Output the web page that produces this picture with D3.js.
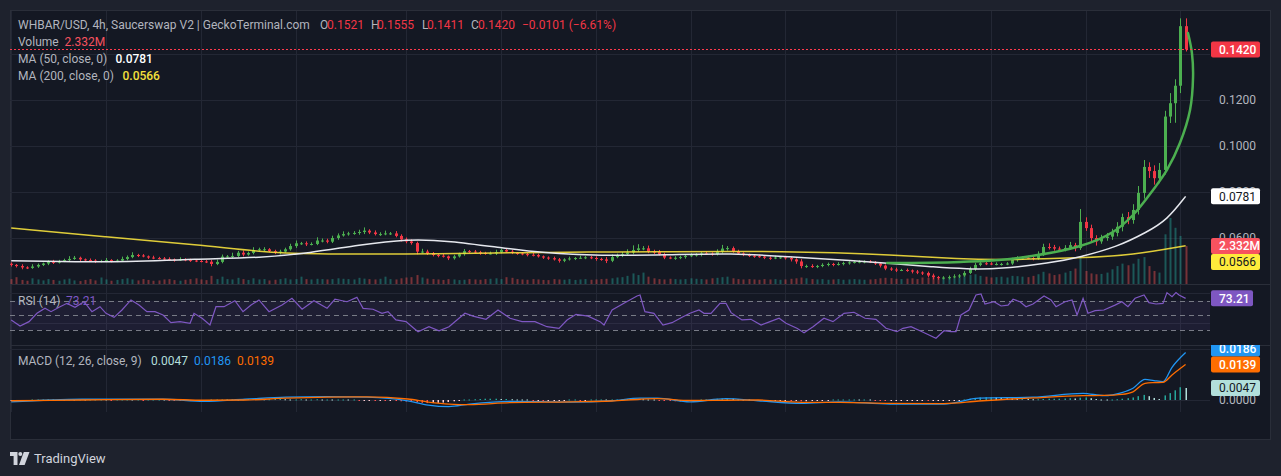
<!DOCTYPE html>
<html>
<head>
<meta charset="utf-8">
<script src="https://cdn.jsdelivr.net/npm/d3@7"></script>
<style>
  body { margin: 0; background: #1e222d; }
  text { font-family: Roboto, "Noto Sans", sans-serif; }
</style>
</head>
<body>
<script>
// 8h candles from 6 Sep 2024, prices in units of 0.0001
var firstOpen = 488;
var closes = [
  483,478,472,470,476,483,489,496,493,500,
  504,509,514,507,504,502,498,500,504,500,
  502,509,517,526,524,520,515,513,511,509,
  507,504,507,504,502,500,498,497,487,496,
  519,520,522,536,528,535,548,551,551,543,
  536,541,551,565,577,577,574,574,589,589,
  584,600,611,617,620,622,626,632,624,617,
  617,620,620,609,594,585,578,541,541,533,
  526,523,520,512,520,530,543,541,538,535,
  533,533,539,548,541,535,533,530,527,526,
  520,515,512,507,501,507,511,513,514,516,
  513,509,507,501,517,524,530,537,548,555,
  555,541,539,530,515,513,514,517,522,525,
  528,533,532,530,541,554,556,543,533,526,
  523,521,519,514,513,515,516,513,507,498,
  478,478,476,478,483,487,485,487,491,494,
  496,497,498,496,489,480,467,463,461,461,
  459,454,450,448,437,430,426,428,430,433,
  437,448,465,483,490,489,487,487,487,489,
  504,513,514,513,512,530,561,560,554,552,
  557,569,556,670,643,600,585,600,606,622,
  649,691,678,722,796,909,891,860,896,1128,
  1186,1262,1521,1420
];
var wickUp = [
  6,4,8,5,10,6,4,7,9,5,6,12,8,5,4,7,6,5,9,4,
  6,10,7,12,5,6,4,8,5,6,7,4,9,5,6,4,5,6,8,10,
  9,6,14,8,10,6,12,7,9,5,6,8,7,10,12,6,8,7,14,9,
  8,10,9,12,7,8,10,14,6,9,8,12,6,10,7,8,9,6,12,8,
  6,5,8,4,7,6,9,5,7,6,5,8,10,6,5,7,4,6,5,8,
  6,4,5,7,6,5,8,4,9,5,6,7,5,10,12,8,9,14,20,18,
  10,12,8,9,6,5,7,6,8,9,6,7,8,6,10,16,9,7,6,5,
  6,5,7,4,6,8,5,6,7,5,10,6,8,5,7,6,5,8,6,5,
  6,7,5,6,4,7,5,6,8,5,6,4,7,5,6,8,5,6,7,9,
  6,8,10,9,7,8,6,7,5,6,10,8,7,9,8,12,14,16,10,9,
  12,14,10,56,20,15,12,14,16,18,20,15,22,25,30,30,20,25,30,25,
  44,28,34,34
];
var wickDn = [
  7,6,8,5,4,6,5,7,6,4,5,6,4,8,5,6,7,4,5,6,
  5,4,6,5,7,4,6,5,4,6,5,7,4,5,6,5,4,6,10,5,
  6,5,7,6,8,5,6,7,8,5,6,7,5,6,8,7,9,6,5,8,
  7,6,8,5,7,6,8,9,7,6,8,5,7,6,9,8,7,12,8,7,
  6,7,5,8,6,5,7,6,5,8,6,5,7,6,4,5,6,5,7,6,
  5,6,7,5,8,6,5,7,4,6,5,8,6,10,6,5,7,6,8,9,
  8,7,9,6,7,5,8,6,7,5,6,8,5,7,6,8,9,7,6,5,
  6,7,5,6,8,5,6,7,9,10,10,8,6,7,5,6,8,5,6,7,
  5,6,7,5,6,8,7,6,9,5,6,8,7,9,8,10,7,6,8,5,
  7,6,5,8,6,7,5,6,7,5,6,7,8,5,9,7,8,10,9,8,
  10,9,14,8,12,15,18,10,12,14,15,20,18,16,20,25,30,28,22,20,
  28,85,32,9
];
// volume in millions
var volumes = [
  .30,.42,.25,.20,.35,.28,.22,.30,.25,.20,.28,.33,.22,.18,.25,.30,.22,.40,.28,.20,
  .25,.30,.35,.28,.22,.30,.25,.20,.22,.28,.30,.24,.20,.26,.30,.35,.28,.24,.50,.30,
  .45,.30,.28,.38,.30,.25,.35,.28,.30,.22,.26,.30,.35,.28,.30,.45,.30,.28,.32,.30,
  .28,.30,.35,.32,.30,.28,.38,.33,.30,.28,.32,.45,.30,.28,.35,.40,.42,.55,.40,.33,
  .30,.28,.25,.30,.28,.24,.26,.30,.28,.26,.30,.32,.35,.30,.42,.38,.30,.28,.26,.30,
  .28,.25,.24,.30,.28,.26,.30,.25,.28,.30,.26,.28,.30,.32,.35,.40,.42,.50,.65,.55,
  .70,.45,.35,.30,.28,.32,.30,.28,.30,.35,.32,.30,.28,.35,.38,.42,.45,.35,.30,.28,
  .30,.28,.26,.30,.28,.30,.26,.28,.32,.35,.40,.35,.30,.28,.30,.26,.28,.30,.26,.28,
  .30,.28,.26,.28,.30,.35,.38,.36,.32,.30,.33,.35,.30,.40,.38,.42,.35,.38,.40,.36,
  .42,.48,.55,.60,.50,.45,.40,.42,.45,.40,.50,.48,.45,.42,.50,.60,.75,.65,.55,.60,
  .70,.80,.95,1.65,.80,.65,.60,.62,.70,.90,
  1.10,1.25,1.15,1.25,1.55,1.65,1.10,.80,.70,3.05,
  4.05,3.45,2.95,2.332
];
// MACD histogram per candle, units of 0.0001
var macdHist = [
  -4,-3,-2,-1,0,1, 2,3,3,3,2,2,1,1,0,
  0,1,1,0,-1,0,1,1,0,0,-1,0,0,1,0,-1,
  -2,-3,-4,-4,-3,-2,-1, 0,1,2,3,3,2,3,4,4,
  4,3,3,4,4,3,2,2,3, 2,2,3,2,2,1,1,1,0,0,-1,
  -1,-1,-2,-2,-3,-3,-4,-5,-6,-7, -9,-11,-12,-12,-11,-10,-8,-5,-2,
  1,2,3,4,5,5,5,4,4,3,2, 1,0,-1,-1,-2,-2,-2,-1,-1,0,0,-1,-1,0,
  1,1,0,1,2,3,4,4, 4,3,2,1,-1,-3,-4,-5,-5, -5,-4,-2,0,2,3,
  5,6,6,5,3,1,0, -1,-2,-3,-3,-3,-3,-3,-4,-4, -5,-5,-4,-3,-2,-1,0,1,
  2,2,2,1,1,0,-1,-2, -3,-3,-3,-3,-2,-2,-2,-2,-3,-3,-3,-2,-2,-1,-1,
  2,5,8,10,11,11,10,9,7, 6,5,5,4,3,3,4,5,5,5,
  6,7,6,9,10,7,4, 1,0,1,3,5,7, 10,15,20,15,8,4, 18,27,38,50,47
];

// indicator lines: [days since 6 Sep, value]
var ma50 = [[0,501],[6,493],[11.95,509],[15.81,514],[18.91,535],[22.01,570],[25.11,596],[27.71,588],
  [31.06,557],[33.66,535],[37.27,523],[41.51,526],[45.68,534],[49.1,519],[53.28,501],[56.25,487],
  [58.34,474],[60.49,465],[62.58,465],[65.75,491],[67.65,517],[69.99,561],[71.89,626],[73.15,678],[74.33,781]];
var ma200 = [[0,644],[6,604],[11.95,570],[15.81,539],[18.91,530],[25.11,530],[30.3,535],[37.27,540],
  [39.8,539],[49.1,544],[56.06,526],[60.05,509],[62.58,504],[67.65,513],[71.0,526],[74.33,566]];
var rsiPts = [[0,43.7],[0.56,35.5],[1.13,41.4],[1.63,52.8],[2.14,59.6],[2.52,55],[3.03,61],[3.53,66.4],
  [4.04,61],[4.61,68.6],[5.11,55],[5.62,61.8],[6.0,52.8],[6.51,47.3],[7.01,57.3],[7.58,71],[8.09,64.1],
  [8.59,55],[9.1,55],[9.61,50.5],[10.11,40],[10.68,41.4],[11.32,39.2],[11.57,52.8],[12.08,46],[12.58,36.8],
  [12.96,61.8],[13.47,61.8],[14.16,70],[14.67,55],[15.18,64],[15.68,71],[16.32,55],[17.14,64],[17.77,73.3],
  [18.41,58.3],[19.16,70],[19.99,59.6],[20.49,72],[21.25,68.6],[21.88,74.6],[22.27,59.6],[22.9,58.3],
  [23.47,52.8],[23.85,55],[24.35,43.7],[24.99,41.4],[25.37,34.5],[25.75,27.7],[26.44,34.5],[27.08,29],
  [27.71,34.5],[28.21,43.7],[28.72,52.8],[29.23,49],[30.05,44.6],[30.81,57.3],[31.57,46],[32.33,41.4],
  [33.15,41.4],[33.91,34.5],[34.67,32.3],[35.18,43.7],[35.75,51.4],[36.51,49],[37.27,41.4],[37.52,36.8],
  [38.03,57.3],[38.78,66.4],[39.61,76.4],[39.8,77.8],[40.11,55],[40.68,52.8],[41.25,36.8],[41.82,40],
  [42.52,48.2],[42.96,52.8],[43.53,57.3],[43.85,52.8],[44.29,52.8],[44.86,66.4],[45.24,66.4],[45.56,53.7],
  [46.25,43.7],[46.82,44.6],[47.46,36.8],[48.03,41.4],[48.6,46],[49.04,39.2],[49.73,32.3],[50.18,26.3],
  [50.75,34.5],[51.44,46],[52.01,41.4],[52.71,52.8],[53.34,54.2],[54.04,46],[54.73,44.6],[55.37,32.3],
  [56.06,27.7],[56.44,32.3],[56.95,34.5],[57.65,27.7],[58.09,23.2],[58.53,18.7],[59.04,29],[59.48,27.7],
  [59.8,27.7],[60.11,50.5],[60.62,57.3],[61.06,77.8],[61.38,79.1],[61.63,65.5],[62.2,68.6],[62.65,62.8],
  [63.09,64],[63.41,72],[63.85,68.6],[64.23,61.8],[64.67,65.5],[65.37,76.4],[65.81,71],[66.13,61.8],
  [66.7,68.6],[67.14,71],[67.46,50.5],[67.84,73.3],[68.15,52.8],[68.6,56.4],[69.16,57.3],[69.86,64],
  [70.3,68.6],[70.68,61.8],[71.13,73.3],[71.7,77.8],[72.01,67.3],[72.46,65.5],[72.9,66.4],[73.15,81],
  [73.47,75.5],[73.72,81],[73.91,77.8],[74.33,73.21]];
var macdDays = [0,4.48,9.61,12.2,14.8,17.4,20.0,22.5,25.1,26.4,27.7,29.0,31.6,35.4,38.0,39.8,40.9,42.96,
  45.24,47.27,50.0,52.45,55.62,59.04,61.25,64.67,67.84,69.17,70.3,71.0,71.76,72.33,72.9,73.47,74.33];
var macdLine = [-7,3,3,-5,3,11,13,11,-3,-20,-26,-16,-5,-8,-3,7,7,-7,5,-3,-13,-7,-16,-16,7,11,26,17,29,46,81,76,72,128,186];
var signalLine = [-3,0,3,-1,0,7,11,12,4,-8,-16,-18,-10,-7,-4,3,5,-2,-1,0,-9,-9,-13,-14,-4,8,17,18,22,32,65,68,69,98,139];
// hand-drawn arc on the chart: [days, price]
var arcPts = [[55.43,491],[60.05,496],[63.21,509],[67.65,565],[69.73,626],[71.0,700],[72.27,809],[73.15,896],
  [73.97,1013],[74.61,1157],[74.8,1300],[74.73,1404],[74.48,1491]];

var tickDates = ['2024-09-06','2024-09-12','2024-09-18','2024-09-24','2024-10-01','2024-10-07','2024-10-13',
  '2024-10-19','2024-10-25','2024-11-01','2024-11-07','2024-11-13','2024-11-19'];
var tickLabels = ['6','12','18','24','Oct','7','13','19','25','Nov','7','13','19'];

var DAY = 864e5, H8 = 8 * 3600e3;
var t0 = Date.UTC(2024, 8, 6);
var W = 1281, H = 476;
var left = 10, right = 1210;
var main = {top: 10, bottom: 284}, rsiP = {top: 284, bottom: 345}, macdP = {top: 345, bottom: 412};

var x = d3.scaleUtc().domain([t0, t0 + 74 * DAY]).range([11.2, 11.2 + 15.8 * 74]);
var y = d3.scaleLinear().domain([0.04, 0.12]).range([284, 100]);
var yv = d3.scaleLinear().domain([0, 2.332]).range([284, 246]);
var yr = d3.scaleLinear().domain([30, 70]).range([330, 300.7]);
var ym = d3.scaleLinear().domain([0, 0.0047]).range([400, 388]);
var fmt4 = d3.format('.4f');
var dayT = function(d) { return t0 + d * DAY; };

var candles = closes.map(function(c, i) {
  var o = i ? closes[i - 1] : firstOpen;
  return {t: t0 + i * H8, o: o / 1e4, c: c / 1e4,
    h: (Math.max(o, c) + wickUp[i]) / 1e4, l: (Math.min(o, c) - wickDn[i]) / 1e4,
    v: volumes[i], up: c >= o};
});

var svg = d3.select('body').append('svg').attr('width', W).attr('height', H).style('display', 'block');
svg.append('rect').attr('width', W).attr('height', H).attr('fill', '#1e222d');
svg.append('rect').attr('x', 10.5).attr('y', 10.5).attr('width', 1260).attr('height', 429)
  .attr('fill', '#141823').attr('stroke', '#2a2e39');

var defs = svg.append('defs');
function clip(id, x0, y0, w, h) {
  defs.append('clipPath').attr('id', id).append('rect').attr('x', x0).attr('y', y0).attr('width', w).attr('height', h);
  return 'url(#' + id + ')';
}
var cMain = clip('cmain', left, main.top, right - left, main.bottom - main.top);
var cRsi = clip('crsi', left, rsiP.top, right - left, rsiP.bottom - rsiP.top);
var cMacd = clip('cmacd', left, macdP.top, right - left, macdP.bottom - macdP.top);
var cTime = clip('ctime', left + 1, 412, right - left, 27);

// grid
var grid = svg.append('g').attr('stroke', '#232734').attr('stroke-width', 1);
tickDates.forEach(function(d) {
  var xx = Math.round(x(new Date(d))) + 0.5;
  grid.append('line').attr('x1', xx).attr('x2', xx).attr('y1', 11).attr('y2', 412);
});
[0.06, 0.08, 0.10, 0.12, 0.14].forEach(function(p) {
  grid.append('line').attr('x1', left).attr('x2', right).attr('y1', Math.round(y(p)) + 0.5).attr('y2', Math.round(y(p)) + 0.5);
});
[80, 40].forEach(function(r) {
  grid.append('line').attr('x1', left).attr('x2', right).attr('y1', Math.round(yr(r)) + 0.5).attr('y2', Math.round(yr(r)) + 0.5);
});
[0, 0.02].forEach(function(m) {
  grid.append('line').attr('x1', left).attr('x2', right).attr('y1', Math.round(ym(m)) + 0.5).attr('y2', Math.round(ym(m)) + 0.5);
});

// pane separators
svg.selectAll('line.sep').data([main.bottom, rsiP.bottom]).enter().append('line')
  .attr('x1', 10).attr('x2', 1271).attr('y1', function(d) { return d + 0.5; }).attr('y2', function(d) { return d + 0.5; })
  .attr('stroke', '#2a2e39');

// ---- main pane
var gm = svg.append('g').attr('clip-path', cMain);
gm.selectAll('rect.vol').data(candles).enter().append('rect')
  .attr('x', function(d) { return Math.round(x(d.t)) - 0.5; })
  .attr('y', function(d) { return yv(d.v); })
  .attr('width', 2)
  .attr('height', function(d) { return yv(0) - yv(d.v); })
  .attr('fill', function(d) { return d.up ? 'rgba(38,166,154,0.45)' : 'rgba(239,83,80,0.45)'; });

var cg = gm.selectAll('g.candle').data(candles).enter().append('g');
cg.append('line')
  .attr('x1', function(d) { return Math.round(x(d.t)) + 0.5; })
  .attr('x2', function(d) { return Math.round(x(d.t)) + 0.5; })
  .attr('y1', function(d) { return y(d.h); })
  .attr('y2', function(d) { return y(d.l); })
  .attr('stroke', function(d) { return d.up ? '#4caf50' : '#f23645'; });
cg.append('rect')
  .attr('x', function(d) { return Math.round(x(d.t)) - 1; })
  .attr('y', function(d) { return y(Math.max(d.o, d.c)); })
  .attr('width', 3)
  .attr('height', function(d) { return Math.max(1, Math.abs(y(d.o) - y(d.c))); })
  .attr('fill', function(d) { return d.up ? '#4caf50' : '#f23645'; });

var maLine = d3.line().x(function(d) { return x(dayT(d[0])); }).y(function(d) { return y(d[1] / 1e4); }).curve(d3.curveBasis);
gm.append('path').attr('d', maLine(ma200)).attr('fill', 'none').attr('stroke', '#f5e03c').attr('stroke-width', 1.5).attr('opacity', 0.9);
gm.append('path').attr('d', maLine(ma50)).attr('fill', 'none').attr('stroke', '#e6e8ee').attr('stroke-width', 1.5);

var arcLine = d3.line().x(function(d) { return x(dayT(d[0])); }).y(function(d) { return y(d[1] / 1e4); }).curve(d3.curveCatmullRom);
gm.append('path').attr('d', arcLine(arcPts)).attr('fill', 'none').attr('stroke', '#4caf50').attr('stroke-width', 2.5).attr('stroke-linecap', 'round');

var last = candles[candles.length - 1];
gm.append('line').attr('x1', left).attr('x2', right).attr('y1', Math.round(y(last.c)) + 0.5).attr('y2', Math.round(y(last.c)) + 0.5)
  .attr('stroke', '#ff3b4e').attr('stroke-width', 1.2).attr('stroke-dasharray', '2,2');

// ---- RSI pane
var gr = svg.append('g').attr('clip-path', cRsi);
gr.append('rect').attr('x', left).attr('width', right - left).attr('y', yr(70)).attr('height', yr(30) - yr(70))
  .attr('fill', 'rgba(126,87,194,0.1)');
[70, 50, 30].forEach(function(r) {
  gr.append('line').attr('x1', left).attr('x2', right).attr('y1', Math.round(yr(r)) + 0.5).attr('y2', Math.round(yr(r)) + 0.5)
    .attr('stroke', '#787b86').attr('stroke-dasharray', '5,4');
});
var rsiLine = d3.line().x(function(d) { return x(dayT(d[0])); }).y(function(d) { return yr(d[1]); });
gr.append('path').attr('d', rsiLine(rsiPts)).attr('fill', 'none').attr('stroke', '#7e57c2').attr('stroke-width', 1.2);

// ---- MACD pane
var gmc = svg.append('g').attr('clip-path', cMacd);
gmc.selectAll('rect.hist').data(macdHist).enter().append('rect')
  .attr('x', function(d, i) { return Math.round(x(t0 + i * H8)) - 0.5; })
  .attr('width', 1.5)
  .attr('y', function(d) { return d >= 0 ? ym(Math.max(d / 1e4, 0.0002)) : ym(0); })
  .attr('height', function(d) { return Math.max(1, Math.abs(ym(d / 1e4) - ym(0))); })
  .attr('fill', function(d, i) {
    var p = i ? macdHist[i - 1] : d;
    if (d >= 0) return d >= p ? '#26a69a' : '#b2dfdb';
    return d < p ? '#ff5252' : '#ffcdd2';
  });
var mLine = d3.line().x(function(d, i) { return x(dayT(macdDays[i])); }).y(function(d) { return ym(d / 1e4); }).curve(d3.curveMonotoneX);
gmc.append('path').attr('d', mLine(macdLine)).attr('fill', 'none').attr('stroke', '#2196f3').attr('stroke-width', 1.3);
gmc.append('path').attr('d', mLine(signalLine)).attr('fill', 'none').attr('stroke', '#ff6d00').attr('stroke-width', 1.3);

// ---- axes
var axColor = '#b2b5be';
function styleAxis(g) {
  g.select('.domain').remove();
  g.selectAll('text').attr('fill', axColor).attr('font-size', 12).attr('font-family', 'Roboto, "Noto Sans", sans-serif');
}
svg.append('g').attr('transform', 'translate(0,412)').attr('clip-path', cTime)
  .call(d3.axisBottom(x).tickValues(tickDates.map(function(d) { return new Date(d); }))
    .tickFormat(function(d, i) { return tickLabels[i]; }).tickSize(0).tickPadding(10))
  .call(styleAxis);

var ga = svg.append('g');
ga.append('g').attr('transform', 'translate(1213,0)')
  .call(d3.axisRight(y).tickValues([0.06, 0.08, 0.10, 0.12]).tickFormat(fmt4).tickSize(0).tickPadding(6)).call(styleAxis);
ga.append('g').attr('transform', 'translate(1213,0)').attr('clip-path', clip('crsiax', 1205, 284, 66, 61))
  .call(d3.axisRight(yr).tickValues([80, 40]).tickFormat(d3.format('.2f')).tickSize(0).tickPadding(6)).call(styleAxis);
ga.append('g').attr('transform', 'translate(1213,0)')
  .call(d3.axisRight(ym).tickValues([0]).tickFormat(fmt4).tickSize(0).tickPadding(6)).call(styleAxis);

function boxes(list, clipUrl) {
  var g = svg.append('g').attr('clip-path', clipUrl);
  list.forEach(function(b) {
    g.append('rect').attr('x', 1211).attr('y', b.y - 8).attr('width', b.w || 49).attr('height', 16).attr('rx', 2).attr('fill', b.bg);
    g.append('text').attr('x', 1219).attr('y', b.y).attr('dy', '0.35em').attr('fill', b.fg)
      .attr('font-size', 12).attr('font-weight', b.fg === '#ffffff' ? 500 : 400).text(b.text);
  });
}
var mainBoxes = [
  {text: fmt4(last.c), y: y(last.c), bg: '#f23645', fg: '#ffffff'},
  {text: fmt4(ma50[ma50.length - 1][1] / 1e4), y: y(ma50[ma50.length - 1][1] / 1e4), bg: '#ffffff', fg: '#131722'},
  {text: last.v + 'M', y: yv(last.v), bg: '#f7525f', fg: '#ffffff'},
  {text: fmt4(ma200[ma200.length - 1][1] / 1e4), y: y(ma200[ma200.length - 1][1] / 1e4), bg: '#ffeb3b', fg: '#131722'}
];
for (var k = 1; k < mainBoxes.length; k++) {
  if (mainBoxes[k].y - mainBoxes[k - 1].y < 16) mainBoxes[k].y = mainBoxes[k - 1].y + 16;
}
boxes(mainBoxes, clip('cmainax', 1205, 10, 66, 274));

var rsiLast = rsiPts[rsiPts.length - 1][1];
boxes([{text: d3.format('.2f')(rsiLast), y: yr(rsiLast), bg: '#7e57c2', fg: '#ffffff', w: 42}], clip('crsibx', 1205, 284, 66, 61));

var mLast = macdLine[macdLine.length - 1] / 1e4, sLast = signalLine[signalLine.length - 1] / 1e4, hLast = macdHist[macdHist.length - 1] / 1e4;
var macdBoxes = [
  {text: fmt4(mLast), y: ym(mLast), bg: '#2196f3', fg: '#ffffff'},
  {text: fmt4(sLast), y: ym(sLast), bg: '#ff6d00', fg: '#ffffff'},
  {text: fmt4(hLast), y: ym(hLast), bg: '#b2dfdb', fg: '#131722'}
];
for (var j = macdBoxes.length - 2; j >= 0; j--) {
  if (macdBoxes[j + 1].y - macdBoxes[j].y < 16) macdBoxes[j].y = macdBoxes[j + 1].y - 16;
}
boxes(macdBoxes, clip('cmacdax', 1205, 345, 66, 67));

// ---- legends
function legend(yy, parts) {
  var t = svg.append('text').attr('y', yy).attr('font-size', 12);
  parts.forEach(function(p) {
    t.append('tspan').attr('x', p[2]).attr('fill', p[1]).attr('font-weight', p[3] || 400).text(p[0]);
  });
}
var gray = '#b2b5be', red = '#f23645';
legend(29, [['WHBAR/USD, 4h, Saucerswap V2 | GeckoTerminal.com', gray, 18],
  ['O', gray, 320], [fmt4(last.o), red, 327], ['H', gray, 371], [fmt4(last.h), red, 377],
  ['L', gray, 422], [fmt4(last.l), red, 427], ['C', gray, 471], [fmt4(last.c), red, 478],
  ['\u22120.0101 (\u22126.61%)', red, 522]]);
legend(46, [['Volume', gray, 18], [last.v + 'M', '#f7525f', 64.5]]);
legend(63, [['MA (50, close, 0)', gray, 18], [fmt4(ma50[ma50.length - 1][1] / 1e4), '#ffffff', 115.5, 500]]);
legend(80, [['MA (200, close, 0)', gray, 18], [fmt4(ma200[ma200.length - 1][1] / 1e4), '#f5e03c', 122.5, 500]]);
legend(305, [['RSI (14)', gray, 18], [d3.format('.2f')(rsiLast), '#7e57c2', 66]]);
legend(365, [['MACD (12, 26, close, 9)', gray, 18], [fmt4(hLast), '#b2dfdb', 151], [fmt4(mLast), '#2196f3', 194], [fmt4(sLast), '#ff6d00', 237]]);

// ---- TradingView logo
var logo = svg.append('g').attr('transform', 'translate(10,452)').attr('fill', '#d1d4dc');
logo.append('path').attr('d', 'M0 0H7.5V13H3.6V4H0Z');
logo.append('circle').attr('cx', 10.3).attr('cy', 2).attr('r', 2);
logo.append('path').attr('d', 'M13.8 0H19.5L14.6 13H9Z');
svg.append('text').attr('x', 34).attr('y', 463).attr('fill', '#d1d4dc').attr('font-size', 13).text('TradingView');
</script>
</body>
</html>
